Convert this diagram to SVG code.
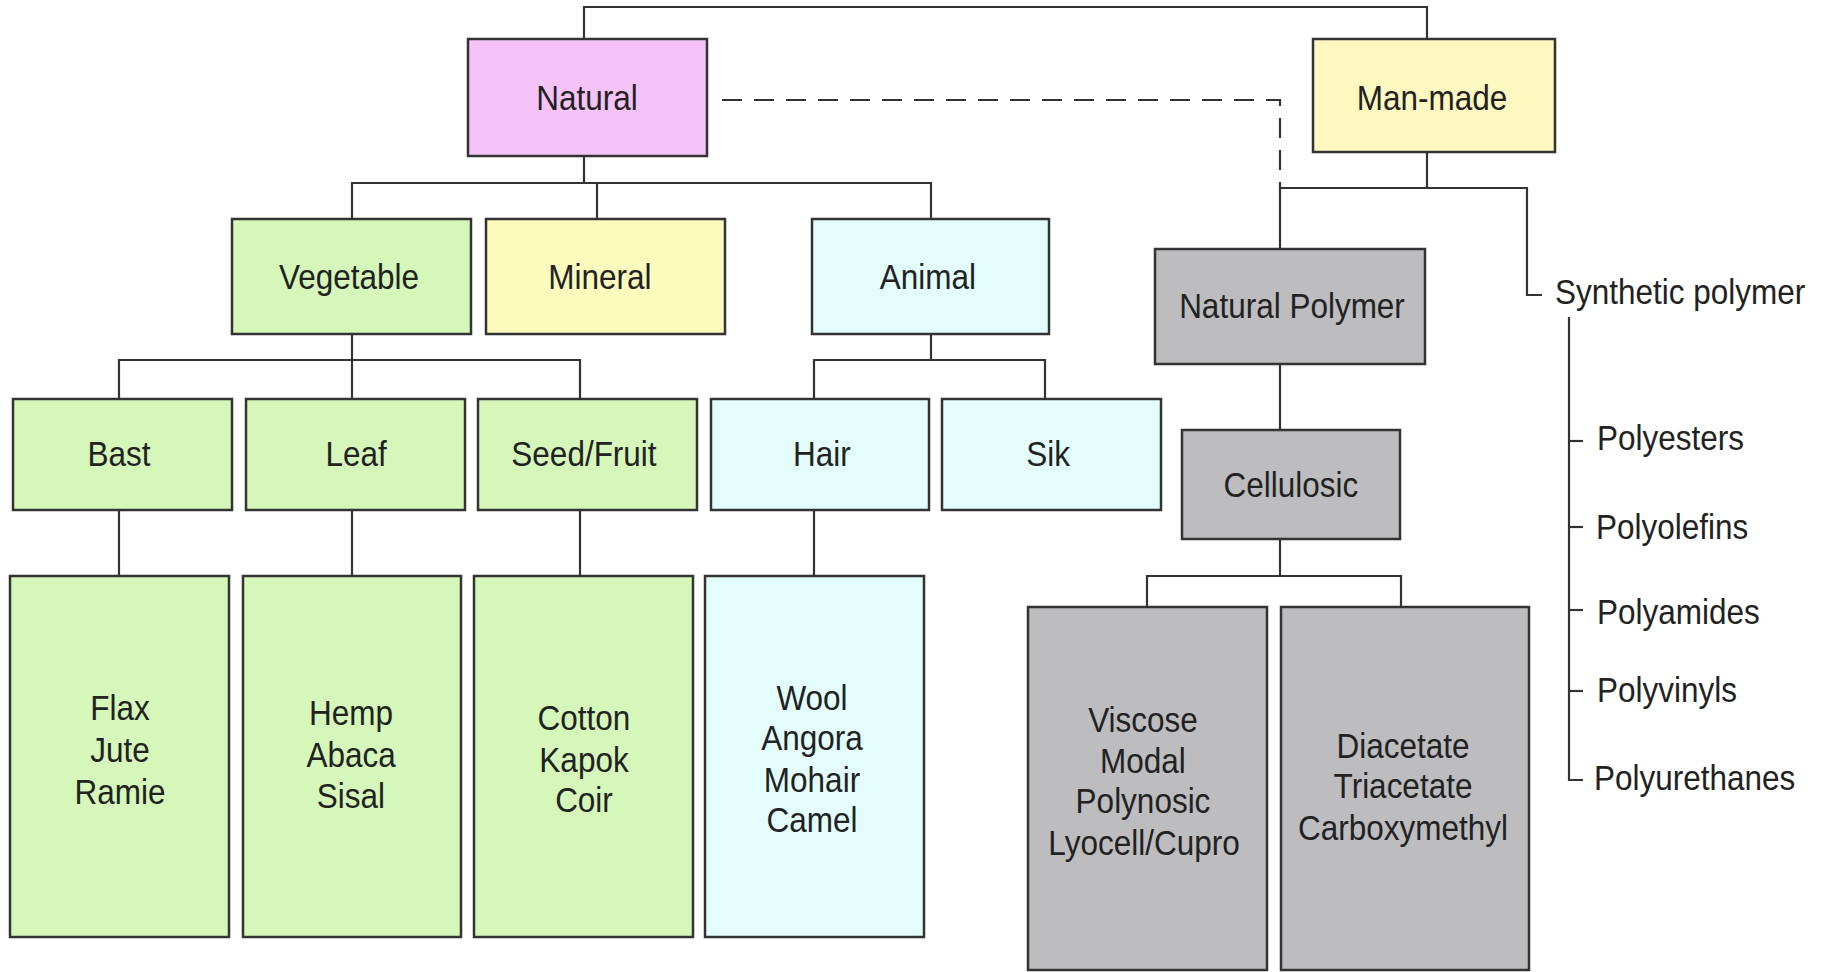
<svg xmlns="http://www.w3.org/2000/svg" width="1836" height="972" viewBox="0 0 1836 972">
<style>
.bx{stroke:#333;stroke-width:2.5}
.pink{fill:#f5c3f7}.green{fill:#d5f7b9}.yel{fill:#fbfbbd}.cyan{fill:#e3fdfd}.cream{fill:#fdf7c0}.gray{fill:#bdbdc0}
.t{font-family:"Liberation Sans",Arial,sans-serif;font-size:35px;fill:#222;text-anchor:middle;transform-box:fill-box;transform-origin:center;transform:scaleX(0.9)}
.l{font-family:"Liberation Sans",Arial,sans-serif;font-size:35px;fill:#222;text-anchor:start;transform-box:fill-box;transform-origin:left center;transform:scaleX(0.9)}
.c{fill:none;stroke:#333;stroke-width:2.2}
.d{fill:none;stroke:#333;stroke-width:2.2;stroke-dasharray:20 12}
</style>
<rect width="1836" height="972" fill="#fff"/>
<g id="connectors">
<polyline class="c" points="584,39 584,7 1427,7 1427,39"/>
<polyline class="d" points="722,100 1280,100 1280,188"/>
<polyline class="c" points="584,156 584,183"/>
<polyline class="c" points="352,219 352,183 931,183 931,219"/>
<polyline class="c" points="597,183 597,219"/>
<polyline class="c" points="352,334 352,360"/>
<polyline class="c" points="119,399 119,360 580,360 580,399"/>
<polyline class="c" points="352,360 352,399"/>
<polyline class="c" points="931,334 931,360"/>
<polyline class="c" points="814,399 814,360 1045,360 1045,399"/>
<polyline class="c" points="119,510 119,576"/>
<polyline class="c" points="352,510 352,576"/>
<polyline class="c" points="580,510 580,576"/>
<polyline class="c" points="814,510 814,576"/>
<polyline class="c" points="1427,152 1427,188"/>
<polyline class="c" points="1280,249 1280,188 1527,188 1527,295 1542,295"/>
<polyline class="c" points="1280,364 1280,430"/>
<polyline class="c" points="1280,539 1280,576"/>
<polyline class="c" points="1147,607 1147,576 1401,576 1401,607"/>
<polyline class="c" points="1569,317 1569,780 1583,780"/>
<line class="c" x1="1569" y1="441" x2="1583" y2="441"/>
<line class="c" x1="1569" y1="527" x2="1583" y2="527"/>
<line class="c" x1="1569" y1="610" x2="1583" y2="610"/>
<line class="c" x1="1569" y1="691" x2="1583" y2="691"/>
</g>
<g id="natural"><rect class="bx pink" x="468" y="39" width="239" height="117"/><text class="t" x="587" y="110">Natural</text></g>
<g id="manmade"><rect class="bx cream" x="1313" y="39" width="242" height="113"/><text class="t" x="1432" y="110">Man-made</text></g>
<g id="vegetable"><rect class="bx green" x="232" y="219" width="239" height="115"/><text class="t" x="349" y="289">Vegetable</text></g>
<g id="mineral"><rect class="bx yel" x="486" y="219" width="239" height="115"/><text class="t" x="600" y="289">Mineral</text></g>
<g id="animal"><rect class="bx cyan" x="812" y="219" width="237" height="115"/><text class="t" x="928" y="289">Animal</text></g>
<g id="bast"><rect class="bx green" x="13" y="399" width="219" height="111"/><text class="t" x="119" y="466">Bast</text></g>
<g id="leaf"><rect class="bx green" x="246" y="399" width="219" height="111"/><text class="t" x="356" y="466">Leaf</text></g>
<g id="seedfruit"><rect class="bx green" x="478" y="399" width="219" height="111"/><text class="t" x="584" y="466">Seed/Fruit</text></g>
<g id="hair"><rect class="bx cyan" x="711" y="399" width="218" height="111"/><text class="t" x="822" y="466">Hair</text></g>
<g id="sik"><rect class="bx cyan" x="942" y="399" width="219" height="111"/><text class="t" x="1048" y="466">Sik</text></g>
<g id="bast-list"><rect class="bx green" x="10" y="576" width="219" height="361"/>
<text class="t" x="120" y="720">Flax</text><text class="t" x="120" y="762">Jute</text><text class="t" x="120" y="804">Ramie</text></g>
<g id="leaf-list"><rect class="bx green" x="243" y="576" width="218" height="361"/>
<text class="t" x="351" y="725">Hemp</text><text class="t" x="351" y="767">Abaca</text><text class="t" x="351" y="808">Sisal</text></g>
<g id="seed-list"><rect class="bx green" x="474" y="576" width="219" height="361"/>
<text class="t" x="584" y="730">Cotton</text><text class="t" x="584" y="772">Kapok</text><text class="t" x="584" y="812">Coir</text></g>
<g id="hair-list"><rect class="bx cyan" x="705" y="576" width="219" height="361"/>
<text class="t" x="812" y="710">Wool</text><text class="t" x="812" y="750">Angora</text><text class="t" x="812" y="792">Mohair</text><text class="t" x="812" y="832">Camel</text></g>
<g id="natural-polymer"><rect class="bx gray" x="1155" y="249" width="270" height="115"/><text class="t" x="1292" y="318">Natural Polymer</text></g>
<g id="cellulosic"><rect class="bx gray" x="1182" y="430" width="218" height="109"/><text class="t" x="1291" y="497">Cellulosic</text></g>
<g id="regenerated"><rect class="bx gray" x="1028" y="607" width="239" height="363"/>
<text class="t" x="1143" y="732">Viscose</text><text class="t" x="1143" y="773">Modal</text><text class="t" x="1143" y="813">Polynosic</text><text class="t" x="1144" y="855">Lyocell/Cupro</text></g>
<g id="esters"><rect class="bx gray" x="1281" y="607" width="248" height="363"/>
<text class="t" x="1403" y="758">Diacetate</text><text class="t" x="1403" y="798">Triacetate</text><text class="t" x="1403" y="840">Carboxymethyl</text></g>
<g id="synthetic"><text class="l" x="1555" y="304">Synthetic polymer</text></g>
<g id="synthetic-list">
<text class="l" x="1597" y="450">Polyesters</text>
<text class="l" x="1596" y="539">Polyolefins</text>
<text class="l" x="1597" y="624">Polyamides</text>
<text class="l" x="1597" y="702">Polyvinyls</text>
<text class="l" x="1594" y="790">Polyurethanes</text>
</g>
</svg>
